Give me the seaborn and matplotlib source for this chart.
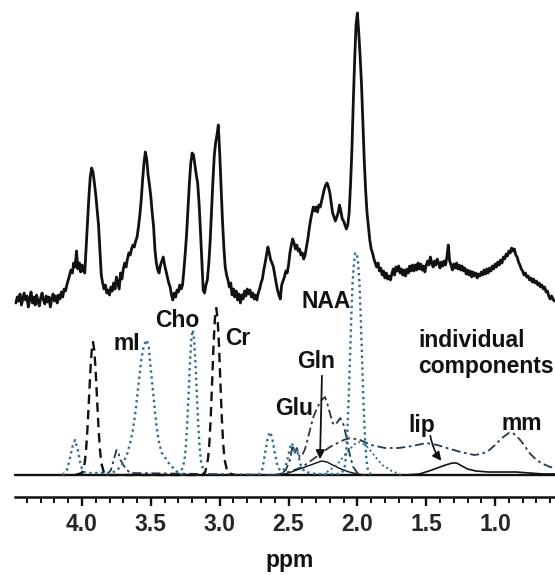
import numpy as np
import matplotlib
matplotlib.use("Agg")
import matplotlib.pyplot as plt
import seaborn as sns

# ---------------- data (ppm, arbitrary intensity) ----------------
# measured spectrum, sampled every 0.01 ppm from 4.48 down to 0.57
spec_int = [
    172, 178, 174, 181, 170, 176, 182, 175, 179,           # 4.48-4.40
    168, 176, 183, 172, 178, 170, 180, 174, 169, 177,      # 4.39-4.30
    182, 175, 171, 179, 173, 178, 168, 176, 181, 174,      # 4.29-4.20
    179, 172, 180, 176, 183, 178, 186, 184, 190, 195,      # 4.19-4.10
    200, 205, 202, 212, 208, 224, 206, 212, 203, 210,      # 4.09-4.00
    204, 202, 228, 252, 278, 298, 307, 303, 292, 280,      # 3.99-3.90
    265, 250, 224, 200, 192, 186, 190, 182, 185, 180,      # 3.89-3.80
    188, 184, 192, 186, 198, 192, 186, 202, 196, 206,      # 3.79-3.70
    212, 208, 216, 222, 220, 226, 230, 228, 234, 238,      # 3.69-3.60
    248, 260, 275, 295, 312, 323, 316, 300, 290, 278,      # 3.59-3.50
    262, 248, 225, 212, 205, 202, 210, 214, 218, 210,      # 3.49-3.40
    204, 198, 192, 188, 180, 175, 182, 178, 185, 183,      # 3.39-3.30
    190, 186, 190, 205, 222, 242, 268, 292, 312, 322,      # 3.29-3.20
    320, 310, 300, 292, 272, 245, 215, 185, 182, 190,      # 3.19-3.10
    195, 210, 232, 262, 292, 318, 332, 340, 350, 322,      # 3.09-3.00
    288, 255, 228, 208, 200, 195, 188, 192, 180, 186,      # 2.99-2.90
    178, 184, 175, 181, 172, 180, 176, 184, 179, 186,      # 2.89-2.80
    181, 185, 178, 182, 176, 180, 175, 182, 186, 192,      # 2.79-2.70
    196, 205, 212, 220, 228, 222, 215, 212, 208, 200,      # 2.69-2.60
    192, 185, 180, 176, 190, 194, 198, 204, 202, 210,      # 2.59-2.50
    222, 230, 236, 232, 226, 230, 224, 226, 220, 222,      # 2.49-2.40
    216, 220, 228, 236, 246, 255, 262, 268, 264, 268,      # 2.39-2.30
    263, 270, 268, 274, 280, 286, 290, 292, 288, 282,      # 2.29-2.20
    272, 262, 258, 254, 258, 262, 270, 264, 256, 254,      # 2.19-2.10
    250, 246, 250, 262, 290, 325, 372, 415, 450, 462,      # 2.09-2.00
    442, 418, 390, 352, 314, 284, 262, 248, 235, 226,      # 1.99-1.90
    222, 216, 212, 208, 212, 204, 207, 200, 204, 197,      # 1.89-1.80
    202, 196, 199, 195, 201, 206, 200, 208, 204, 209,      # 1.79-1.70
    202, 206, 200, 205, 199, 206, 202, 209, 204, 210,      # 1.69-1.60
    204, 210, 205, 212, 206, 211, 205, 209, 203, 210,      # 1.59-1.50
    214, 210, 218, 212, 208, 214, 210, 216, 212, 207,      # 1.49-1.40
    213, 209, 214, 210, 218, 230, 214, 210, 205, 211,      # 1.39-1.30
    207, 212, 206, 210, 205, 209, 204, 207, 201, 205,      # 1.29-1.20
    200, 204, 198, 203, 199, 202, 197, 201, 199, 203,      # 1.19-1.10
    200, 205, 201, 206, 202, 207, 204, 209, 206, 211,      # 1.09-1.00
    208, 213, 210, 215, 212, 218, 216, 221, 219, 224,      # 0.99-0.90
    222, 227, 224, 226, 220, 218, 213, 210, 206, 204,      # 0.89-0.80
    200, 202, 198, 199, 195, 197, 193, 196, 192, 194,      # 0.79-0.70
    190, 192, 188, 190, 186, 188, 183, 184, 179, 176,      # 0.69-0.60
    179, 176, 174,                                          # 0.59-0.57
]
spec_ppm = np.round(4.48 - 0.01 * np.arange(len(spec_int)), 2)

# individual fitted components
cr_ppm = [4.05, 4.00, 3.98, 3.97, 3.96, 3.95, 3.94, 3.93, 3.92, 3.91, 3.90, 3.89, 3.88, 3.87, 3.86, 3.84, 3.80,
          3.12, 3.105, 3.085, 3.075, 3.065, 3.055, 3.045, 3.035, 3.025, 3.015, 3.005, 2.995, 2.985, 2.975, 2.965, 2.945, 2.90]
cr_int = [0, 2, 12, 26, 47, 74, 102, 124, 133, 124, 102, 74, 47, 26, 12, 2, 0,
          0, 3, 16, 32, 58, 93, 129, 156, 167, 156, 129, 93, 58, 32, 16, 3, 0]

cho_ppm = [3.30, 3.28, 3.256, 3.246, 3.236, 3.226, 3.216, 3.206, 3.196, 3.186, 3.176, 3.166, 3.156, 3.146, 3.136, 3.116, 3.09]
cho_int = [0, 3, 14, 28, 51, 80, 112, 136, 145, 136, 112, 80, 51, 28, 14, 3, 0]

mi_ppm = [4.14, 4.11, 4.09, 4.07, 4.05, 4.03, 4.01, 3.99, 3.95, 3.80, 3.75, 3.70, 3.67, 3.65, 3.63, 3.61, 3.59,
          3.57, 3.55, 3.53, 3.515, 3.50, 3.48, 3.46, 3.44, 3.42, 3.40, 3.38, 3.36, 3.33, 3.30, 3.25]
mi_int = [0, 5, 15, 28, 35, 25, 10, 3, 2, 2, 4, 12, 22, 32, 45, 65, 90,
          115, 130, 135, 128, 105, 78, 50, 32, 22, 18, 14, 10, 6, 2, 0]

naa_ppm = [2.72, 2.69, 2.67, 2.65, 2.635, 2.62, 2.60, 2.58, 2.56, 2.53, 2.51, 2.49, 2.475, 2.46, 2.45, 2.44, 2.43,
           2.41, 2.38, 2.30, 2.14, 2.115, 2.095, 2.085, 2.075, 2.065, 2.055, 2.045, 2.035, 2.025, 2.015, 2.005,
           1.995, 1.985, 1.975, 1.965, 1.955, 1.945, 1.935, 1.925, 1.915, 1.89]
naa_int = [0, 6, 22, 38, 43, 38, 22, 9, 4, 6, 14, 27, 32, 24, 22, 26, 20,
           9, 3, 1, 1, 2, 6, 16, 37, 70, 112, 155, 192, 212, 222, 222,
           212, 192, 155, 112, 70, 37, 16, 6, 2, 0]

glu_ppm = [3.82, 3.79, 3.77, 3.75, 3.74, 3.72, 3.70, 3.68, 3.65, 2.56, 2.52, 2.49, 2.47, 2.455, 2.44, 2.42, 2.40,
           2.38, 2.35, 2.32, 2.29, 2.26, 2.235, 2.22, 2.20, 2.18, 2.16, 2.14, 2.125, 2.10, 2.08, 2.055, 2.03, 2.00, 1.95]
glu_int = [0, 5, 15, 25, 24, 15, 10, 6, 2, 0, 5, 15, 30, 22, 27, 18, 20,
           26, 42, 58, 68, 75, 78, 72, 62, 52, 50, 54, 57, 50, 38, 20, 8, 2, 0]

gln_ppm = [2.55, 2.48, 2.42, 2.36, 2.30, 2.26, 2.22, 2.18, 2.12, 2.06, 2.00, 1.95]
gln_int = [0, 3, 6, 9, 12, 14, 13, 10, 6, 3, 1, 0]

mm_ppm = [2.60, 2.50, 2.40, 2.30, 2.20, 2.10, 2.05, 1.98, 1.90, 1.80, 1.70, 1.60, 1.50, 1.42, 1.35, 1.25, 1.15,
          1.10, 1.05, 1.00, 0.95, 0.90, 0.87, 0.83, 0.80, 0.75, 0.70, 0.65, 0.60, 0.565]
mm_int = [0, 3, 8, 18, 28, 35, 37, 35, 30, 27, 27, 29, 32, 30, 27, 23, 20,
          21, 24, 30, 37, 42, 42, 37, 32, 22, 15, 11, 8, 7]

naag_ppm = [2.25, 2.15, 2.08, 2.02, 1.98, 1.94, 1.88, 1.82, 1.75, 1.68]
naag_int = [0, 10, 22, 31, 33, 30, 20, 10, 4, 0]

lip_ppm = [1.65, 1.55, 1.48, 1.42, 1.36, 1.31, 1.28, 1.24, 1.20, 1.14, 1.05, 0.95, 0.85, 0.75, 0.65, 0.565]
lip_int = [0, 1, 4, 7, 10, 12, 12, 9, 6, 4, 3, 3, 3, 2, 1, 1]

base_ppm = [4.487, 0.565]
base_int = [0, 0]

major_ticks = [4.0, 3.5, 3.0, 2.5, 2.0, 1.5, 1.0]
major_labels = ["4.0", "3.5", "3.0", "2.5", "2.0", "1.5", "1.0"]
minor_ticks = [4.4, 4.3, 4.2, 4.1, 3.9, 3.8, 3.7, 3.6, 3.4, 3.3, 3.2, 3.1, 2.9, 2.8, 2.7, 2.6,
               2.4, 2.3, 2.2, 2.1, 1.9, 1.8, 1.7, 1.6, 1.4, 1.3, 1.2, 1.1, 0.9, 0.8, 0.7, 0.6]

# ---------------- drawing ----------------
sns.set_theme(style="white")
plt.rcParams["font.family"] = ["Liberation Sans", "DejaVu Sans"]
plt.rcParams["font.weight"] = "bold"

fig = plt.figure(figsize=(5.55, 5.75), dpi=100)
ax = fig.add_axes([0, 0, 1, 1])
ax.set_facecolor("white")

BLUE = "#2f6d92"
DARK = "#243a4c"
BLACK = "#111111"

def line(x, y, **kw):
    sns.lineplot(x=list(x), y=list(y), ax=ax, estimator=None, sort=False, **kw)

line(base_ppm, base_int, color=BLACK, lw=1.7, zorder=2)
line(lip_ppm, lip_int, color=BLACK, lw=1.2, zorder=3)
line(gln_ppm, gln_int, color=BLACK, lw=1.0, zorder=3)
line(mm_ppm, mm_int, color=DARK, lw=1.3, linestyle=(0, (5, 2, 1.5, 2)), zorder=3)
line(glu_ppm, glu_int, color=DARK, lw=1.3, linestyle=(0, (5, 2, 1.5, 2)), zorder=3)
line(naag_ppm, naag_int, color=BLUE, lw=1.4, linestyle=(0, (1, 1.5)), zorder=3)
line(mi_ppm, mi_int, color=BLUE, lw=1.7, linestyle=(0, (1, 1.5)), zorder=3)
line(cho_ppm, cho_int, color=BLUE, lw=1.7, linestyle=(0, (1, 1.5)), zorder=3)
line(naa_ppm, naa_int, color=BLUE, lw=1.7, linestyle=(0, (1, 1.5)), zorder=3)
line(cr_ppm, cr_int, color=BLACK, lw=1.7, linestyle=(0, (4, 2.5)), zorder=3)
line(spec_ppm, spec_int, color=BLACK, lw=2.0, zorder=4)

ax.set_xlim(4.5955, 0.565)
ax.set_ylim(-100, 475)

# axis
for s in ["top", "left", "right"]:
    ax.spines[s].set_visible(False)
ax.spines["bottom"].set_position(("data", -22))
ax.spines["bottom"].set_bounds(4.487, 0.565)
ax.spines["bottom"].set_linewidth(1.8)
ax.spines["bottom"].set_color(BLACK)
ax.set_xticks(major_ticks)
ax.set_xticklabels(major_labels)
ax.set_xticks(minor_ticks, minor=True)
ax.tick_params(axis="x", which="major", direction="out", length=6.2, width=1.7,
               color=BLACK, labelsize=16.5, pad=5, bottom=True)
ax.tick_params(axis="x", which="minor", direction="out", length=4, width=1.4,
               color=BLACK, bottom=True)
for t in ax.get_xticklabels():
    t.set_fontweight("bold")
ax.set_yticks([])
ax.set_xlabel("")
ax.set_ylabel("")

fs = 16.5
kw = dict(fontsize=fs, fontweight="bold", color=BLACK, va="baseline", zorder=6)
ax.text(2.49, -92, "ppm", ha="center", **kw)
ax.text(3.673, 125, "mI", ha="center", **kw)
ax.text(3.31, 148, "Cho", ha="center", **kw)
ax.text(2.867, 130, "Cr", ha="center", **kw)
ax.text(2.228, 167, "NAA", ha="center", **kw)
ax.text(2.30, 107, "Gln", ha="center", **kw)
ax.text(2.46, 60, "Glu", ha="center", **kw)
ax.text(1.53, 43, "lip", ha="center", **kw)
ax.text(0.81, 45, "mm", ha="center", **kw)
ax.text(1.56, 128, "individual", ha="left", **kw)
ax.text(1.56, 102, "components", ha="left", **kw)

ax.annotate("", xy=(2.272, 13), xytext=(2.257, 102),
            arrowprops=dict(arrowstyle="-|>", color=BLACK, lw=1.3, mutation_scale=13))
ax.annotate("", xy=(1.378, 12), xytext=(1.473, 42),
            arrowprops=dict(arrowstyle="-|>", color=BLACK, lw=1.2, mutation_scale=13,
                            connectionstyle="arc3,rad=0.15"))

fig.savefig("out.png", dpi=100)
